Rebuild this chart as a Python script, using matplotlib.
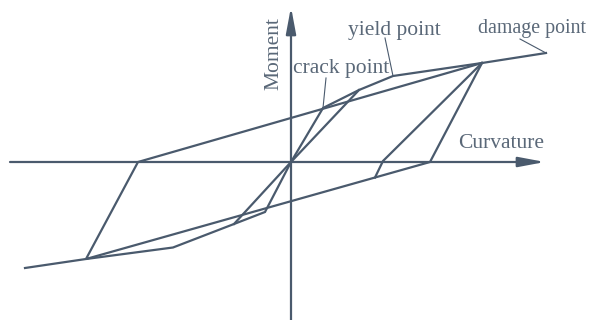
import matplotlib.pyplot as plt

# skeleton (backbone) curve, curvature vs moment
skel_phi = [-2.66, -2.05, -1.18, -0.57, -0.26, 0.0, 0.32, 0.68, 1.02, 1.91, 2.55]
skel_m = [-1.06, -0.97, -0.855, -0.62, -0.50, 0.0, 0.54, 0.72, 0.86, 0.99, 1.09]

# outer hysteresis loop from the damage point
loop_phi = [1.91, 1.39, -2.05, -1.53, 1.91]
loop_m = [0.99, 0.0, -0.97, 0.0, 0.99]

# reloading lines aimed at the origin
pos_reload_phi = [0.0, 0.68]
pos_reload_m = [0.0, 0.72]
neg_reload_phi = [0.0, -0.57]
neg_reload_m = [0.0, -0.62]

# inner unloading branch
unload_phi = [1.91, 0.92, 0.84]
unload_m = [0.99, 0.01, -0.155]

# labels: (text, x, y, size, leader start, leader end)
labels = [
    ("crack point", 0.02, 0.89, 15.5, (0.35, 0.84), (0.32, 0.54)),
    ("yield point", 0.57, 1.27, 15.5, (0.94, 1.24), (1.02, 0.86)),
    ("damage point", 1.87, 1.29, 14.3, (2.29, 1.23), (2.55, 1.09)),
]

line_c = '#4a5a6d'
text_c = '#5a6878'
plt.rcParams['font.family'] = ['Liberation Serif', 'DejaVu Serif']

fig = plt.figure(figsize=(5.95, 3.2), dpi=100)
ax = fig.add_axes([0, 0, 1, 1])
ax.set_xlim(-2.91, 3.04)
ax.set_ylim(-1.58, 1.62)
ax.axis('off')

# axes with arrowheads
arrow = dict(arrowstyle='-|>,head_length=1.6,head_width=0.3', color=line_c,
             lw=1.6, mutation_scale=10, shrinkA=0, shrinkB=0)
ax.annotate('', xy=(2.54, 0), xytext=(-2.81, 0), arrowprops=arrow)
ax.annotate('', xy=(0, 1.55), xytext=(0, -1.58), arrowprops=arrow)

kw = dict(color=line_c, lw=1.6, solid_joinstyle='miter')
ax.plot(skel_phi, skel_m, **kw)
ax.plot(loop_phi, loop_m, **kw)
ax.plot(pos_reload_phi, pos_reload_m, **kw)
ax.plot(neg_reload_phi, neg_reload_m, **kw)
ax.plot(unload_phi, unload_m, **kw)

for txt, x, y, fs, p0, p1 in labels:
    ax.text(x, y, txt, fontsize=fs, color=text_c, ha='left', va='baseline')
    ax.plot([p0[0], p1[0]], [p0[1], p1[1]], color=line_c, lw=0.8)

ax.text(1.67, 0.14, 'Curvature', fontsize=15.5, color=text_c, ha='left', va='baseline')
ax.text(-0.175, 1.08, 'Moment', fontsize=15.5, color=text_c, rotation=90,
        ha='center', va='center')

fig.savefig('out.png', dpi=100)
